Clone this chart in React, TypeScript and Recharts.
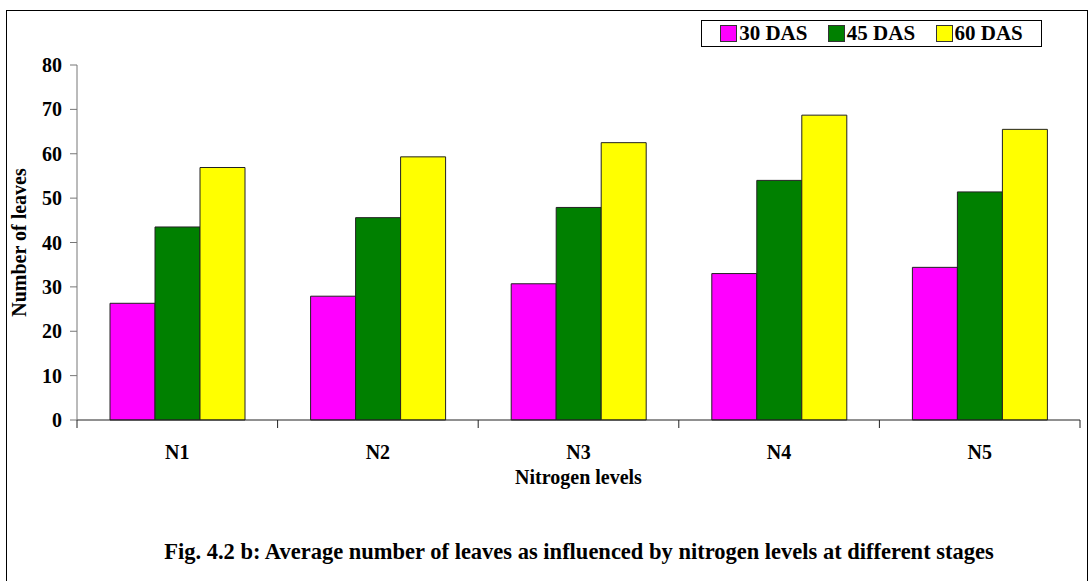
import React from "react";
import { BarChart, Bar, XAxis, YAxis, Legend, Label } from "recharts";

const levels = ["N1", "N2", "N3", "N4", "N5"];
const das30 = [26.3, 27.9, 30.7, 33.0, 34.4];
const das45 = [43.5, 45.6, 47.9, 54.0, 51.4];
const das60 = [56.9, 59.3, 62.5, 68.7, 65.5];
const yTicks = [0, 10, 20, 30, 40, 50, 60, 70, 80];

const FONT = "'Liberation Serif', 'Times New Roman', serif";

const data = levels.map((name, i) => ({
  name,
  d30: das30[i],
  d45: das45[i],
  d60: das60[i],
}));

function CategoryTick(props: any) {
  const { x, y, payload, index, visibleTicksCount } = props;
  const half = payload.offset ?? props.width / visibleTicksCount / 2;
  const last = index === visibleTicksCount - 1;
  return (
    <g>
      <line x1={x - half} x2={x - half} y1={y} y2={y + 8} stroke="#222" />
      {last && <line x1={x + half} x2={x + half} y1={y} y2={y + 8} stroke="#222" />}
      <text
        x={x}
        y={y + 39}
        textAnchor="middle"
        fontFamily={FONT}
        fontWeight="bold"
        fontSize={20}
        fill="#000"
      >
        {payload.value}
      </text>
    </g>
  );
}

function LegendBox(props: any) {
  const items = props.payload || [];
  return (
    <div
      style={{
        border: "1.5px solid #000",
        height: 27,
        display: "flex",
        alignItems: "center",
        justifyContent: "space-around",
        boxSizing: "border-box",
        fontFamily: FONT,
        fontWeight: "bold",
        fontSize: 21,
        padding: "0 8px",
      }}
    >
      {items.map((it: any) => (
        <div key={it.value} style={{ display: "flex", alignItems: "center" }}>
          <span
            style={{
              display: "inline-block",
              width: 15,
              height: 15,
              background: it.color,
              border: "1px solid #333",
              marginRight: 2,
            }}
          />
          <span>{it.value}</span>
        </div>
      ))}
    </div>
  );
}

export default function App() {
  return (
    <div style={{ position: "absolute", left: 0, top: 0, width: 1090, height: 581, background: "#fff", overflow: "hidden" }}>
      <div
        style={{
          position: "absolute",
          left: 6,
          top: 10,
          width: 1080,
          height: 600,
          border: "1.5px solid #000",
          borderBottom: "none",
        }}
      />
      <BarChart
        width={1090}
        height={581}
        data={data}
        margin={{ top: 65, right: 10, bottom: 91, left: 0 }}
        barCategoryGap={33}
        barGap={0}
      >
        <XAxis
          dataKey="name"
          height={70}
          interval={0}
          tickSize={0}
          tickMargin={0}
          tickLine={false}
          axisLine={{ stroke: "#222" }}
          tick={<CategoryTick />}
        >
          <Label
            content={({ viewBox }: any) => (
              <text
                x={viewBox.x + viewBox.width / 2}
                y={viewBox.y + 64}
                textAnchor="middle"
                fontFamily={FONT}
                fontWeight="bold"
                fontSize={20}
                fill="#000"
              >
                Nitrogen levels
              </text>
            )}
          />
        </XAxis>
        <YAxis
          width={77}
          domain={[0, 80]}
          ticks={yTicks}
          interval={0}
          tickSize={7}
          tickMargin={8}
          axisLine={{ stroke: "#777" }}
          tickLine={{ stroke: "#777" }}
          tick={{ fill: "#000", fontFamily: FONT, fontWeight: "bold", fontSize: 20 }}
        >
          <Label
            content={({ viewBox }: any) => {
              const cx = 26;
              const cy = viewBox.y + viewBox.height / 2;
              return (
                <text
                  x={cx}
                  y={cy}
                  transform={`rotate(-90, ${cx}, ${cy})`}
                  textAnchor="middle"
                  fontFamily={FONT}
                  fontWeight="bold"
                  fontSize={20}
                  fill="#000"
                >
                  Number of leaves
                </text>
              );
            }}
          />
        </YAxis>
        <Legend
          layout="horizontal"
          verticalAlign="middle"
          align="center"
          content={<LegendBox />}
          wrapperStyle={{ top: 20, left: 701, width: 341, height: 27 }}
        />
        <Bar dataKey="d30" name="30 DAS" fill="#ff00ff" stroke="#222" strokeWidth={1} isAnimationActive={false} />
        <Bar dataKey="d45" name="45 DAS" fill="#008000" stroke="#222" strokeWidth={1} isAnimationActive={false} />
        <Bar dataKey="d60" name="60 DAS" fill="#ffff00" stroke="#222" strokeWidth={1} isAnimationActive={false} />
      </BarChart>
      <div
        style={{
          position: "absolute",
          left: 79,
          top: 539,
          width: 1000,
          textAlign: "center",
          fontFamily: FONT,
          fontWeight: "bold",
          fontSize: 22.5,
          lineHeight: "26px",
        }}
      >
        Fig. 4.2 b: Average number of leaves as influenced by nitrogen levels at different stages
      </div>
    </div>
  );
}
